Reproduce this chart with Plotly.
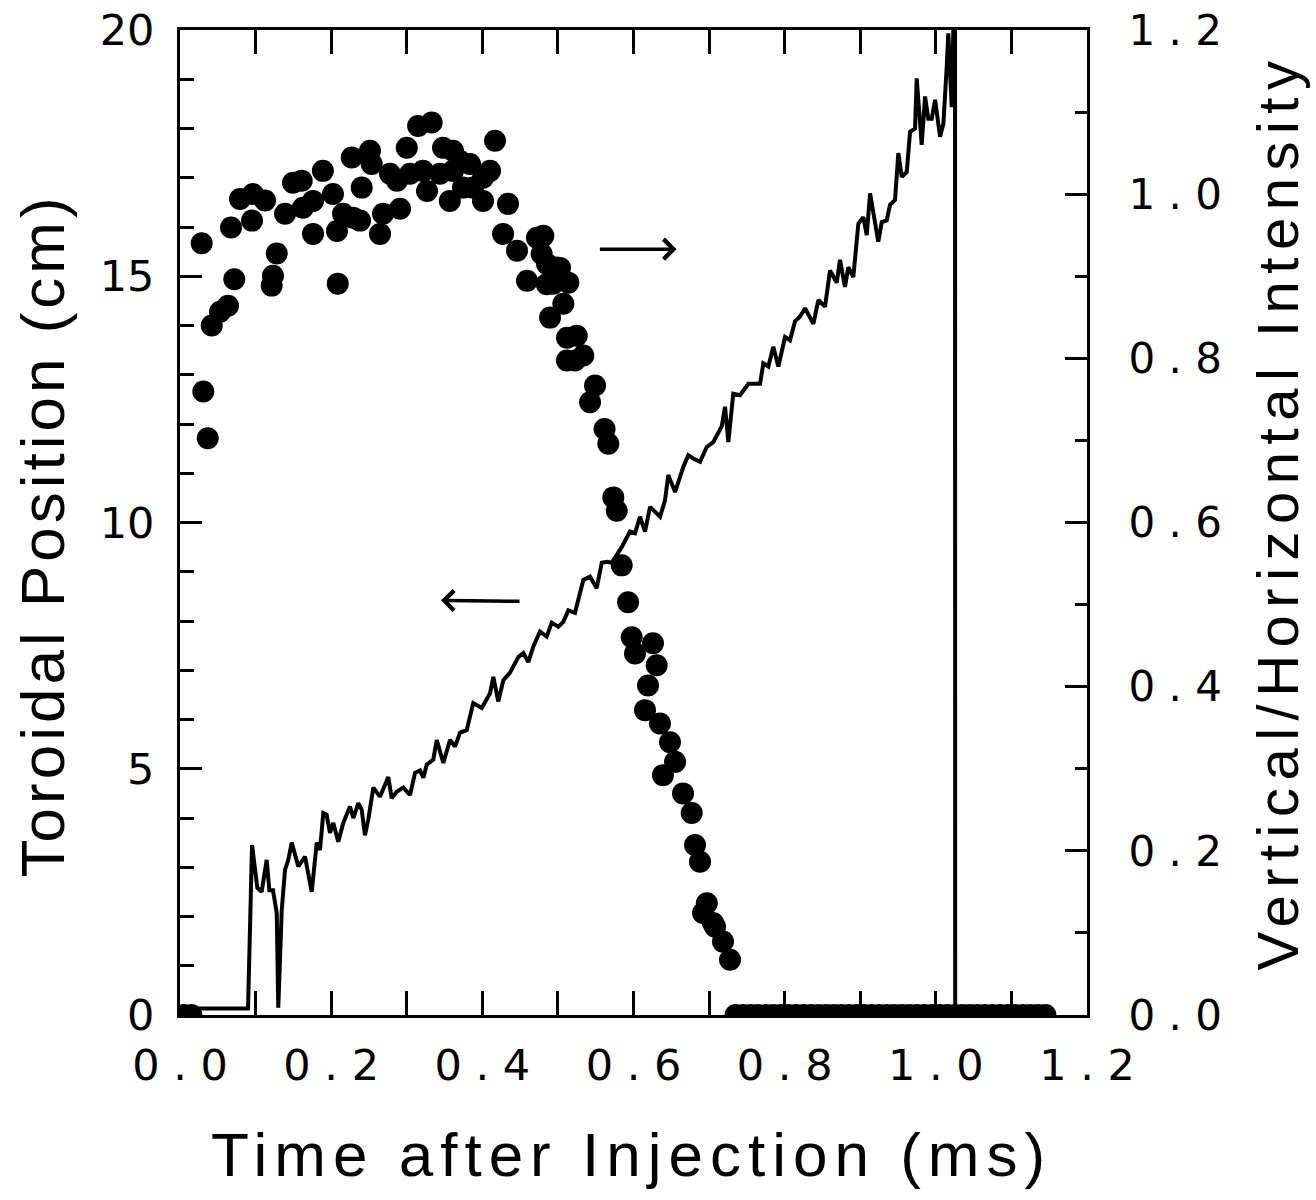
import plotly.graph_objects as go

# ---------------- data ----------------
# Toroidal position (cm) vs time after injection (ms)  -> left axis
pos_t = [0.005, 0.015,
         0.0287, 0.0308, 0.0367, 0.042, 0.053, 0.0635, 0.0675, 0.0718, 0.0794, 0.0953,
         0.0966, 0.1125, 0.1213, 0.123, 0.128, 0.139, 0.1495, 0.161, 0.1627, 0.176,
         0.176, 0.189, 0.2024, 0.2077, 0.2087, 0.2157, 0.2272, 0.229, 0.2382, 0.2404,
         0.2514, 0.2536, 0.2646, 0.2686, 0.2779, 0.2871, 0.2911, 0.300, 0.3043, 0.315,
         0.3215, 0.3268, 0.333, 0.344, 0.348, 0.357, 0.3612, 0.3612, 0.3705, 0.3744,
         0.3837, 0.3877, 0.4009, 0.4009, 0.4102, 0.4168, 0.4274, 0.434, 0.4459, 0.4591,
         0.4723, 0.4785, 0.4807, 0.4852, 0.4856, 0.4896, 0.4935, 0.4984, 0.5028, 0.5072,
         0.512, 0.5138, 0.512, 0.5226, 0.5249, 0.5336, 0.5425, 0.5491, 0.5617, 0.5667,
         0.5733, 0.5778, 0.5844, 0.5928, 0.5976, 0.602, 0.6152, 0.6192, 0.6258, 0.6307,
         0.635, 0.639, 0.6483, 0.655, 0.6655, 0.677, 0.6814, 0.688, 0.692, 0.697,
         0.7052, 0.7079, 0.7184, 0.7277,
         0.735, 0.745, 0.755, 0.765, 0.775, 0.785, 0.795, 0.805, 0.815, 0.825,
         0.835, 0.845, 0.855, 0.865, 0.875, 0.885, 0.895, 0.905, 0.915, 0.925,
         0.935, 0.945, 0.955, 0.965, 0.975, 0.985, 0.995, 1.005, 1.015, 1.025,
         1.035, 1.045, 1.055, 1.065, 1.075, 1.085, 1.095, 1.105, 1.115, 1.125,
         1.135, 1.145]
pos_cm = [0.0, 0.0,
          15.67, 12.66, 11.71, 14.00, 14.28, 14.40, 15.99, 14.94, 16.57, 16.13,
          16.67, 16.54, 14.81, 15.01, 15.46, 16.27, 16.90, 16.94, 16.39, 15.86,
          16.53, 17.14, 16.67, 15.92, 14.85, 16.27, 17.41, 16.19, 16.13, 16.80,
          17.55, 17.28, 15.86, 16.27, 17.08, 16.94, 16.37, 17.61, 17.08, 18.05,
          17.14, 16.73, 18.12, 17.08, 17.61, 16.53, 17.55, 17.14, 17.34, 16.80,
          17.28, 16.80, 17.00, 16.53, 17.14, 17.75, 15.86, 16.47, 15.52, 14.91,
          15.78, 15.45, 15.82, 14.84, 15.25, 14.16, 14.85, 15.18, 15.17, 14.44,
          13.75, 14.87, 13.29, 13.29, 13.79, 13.39, 12.44, 12.78, 11.90, 11.60,
          10.51, 10.24, 9.13, 8.38, 7.67, 7.34, 6.19, 6.69, 7.55, 7.10,
          5.92, 4.87, 5.54, 5.14, 4.50, 4.10, 3.45, 3.11, 2.07, 2.27,
          1.87, 1.79, 1.49, 1.12,
          0.0, 0.0, 0.0, 0.0, 0.0, 0.0, 0.0, 0.0, 0.0, 0.0,
          0.0, 0.0, 0.0, 0.0, 0.0, 0.0, 0.0, 0.0, 0.0, 0.0,
          0.0, 0.0, 0.0, 0.0, 0.0, 0.0, 0.0, 0.0, 0.0, 0.0,
          0.0, 0.0, 0.0, 0.0, 0.0, 0.0, 0.0, 0.0, 0.0, 0.0,
          0.0, 0.0]

# Vertical/Horizontal intensity ratio vs time (ms) -> right axis
ratio_t = [0.000, 0.090, 0.0953, 0.1023, 0.108, 0.1147, 0.1182, 0.123, 0.128, 0.130,
           0.1346, 0.139, 0.1433, 0.1478, 0.1565, 0.1654, 0.1743, 0.1809, 0.1852, 0.1896,
           0.194, 0.1984, 0.2028, 0.2094, 0.216, 0.2249, 0.2293, 0.2359, 0.2404, 0.2447,
           0.2491, 0.2558, 0.2646, 0.2756, 0.280, 0.2867, 0.2954, 0.3043, 0.311, 0.3175,
           0.322, 0.3264, 0.3351, 0.3397, 0.3484, 0.3572, 0.3639, 0.3705, 0.3793, 0.388,
           0.3992, 0.4102, 0.4145, 0.4211, 0.4278, 0.4366, 0.4476, 0.4542, 0.4608, 0.4675,
           0.4763, 0.4852, 0.4918, 0.5005, 0.5072, 0.5138, 0.5226, 0.5336, 0.5425, 0.5513,
           0.558, 0.5646, 0.5712, 0.5844, 0.5954, 0.602, 0.6086, 0.6152, 0.6219, 0.6351,
           0.6417, 0.646, 0.655, 0.666, 0.6725, 0.679, 0.688, 0.6969, 0.7056, 0.7167,
           0.7211, 0.7255, 0.732, 0.7409, 0.752, 0.7674, 0.7718, 0.7784, 0.785, 0.7916,
           0.8005, 0.807, 0.8137, 0.8203, 0.827, 0.838, 0.8445, 0.8534, 0.860, 0.8689,
           0.8732, 0.8798, 0.8842, 0.8908, 0.8975, 0.9041, 0.9086, 0.913, 0.9239, 0.9284,
           0.935, 0.9394, 0.946, 0.9504, 0.9549, 0.9615, 0.9659, 0.9725, 0.9747, 0.9813,
           0.9857, 0.990, 0.9946, 0.999, 1.0056, 1.010, 1.0144, 1.0165, 1.021, 1.0232,
           1.0254, 1.0256, 1.150]
ratio_v = [0.008, 0.008, 0.207, 0.155, 0.150, 0.189, 0.152, 0.152, 0.124, 0.009,
           0.128, 0.177, 0.189, 0.210, 0.181, 0.193, 0.150, 0.210, 0.201, 0.246,
           0.244, 0.222, 0.234, 0.211, 0.234, 0.254, 0.240, 0.258, 0.250, 0.219,
           0.238, 0.277, 0.266, 0.290, 0.264, 0.272, 0.277, 0.268, 0.295, 0.298,
           0.289, 0.305, 0.311, 0.335, 0.307, 0.335, 0.327, 0.344, 0.347, 0.380,
           0.374, 0.392, 0.412, 0.382, 0.408, 0.417, 0.436, 0.441, 0.430, 0.449,
           0.467, 0.461, 0.478, 0.473, 0.479, 0.493, 0.490, 0.530, 0.534, 0.520,
           0.551, 0.552, 0.551, 0.570, 0.589, 0.587, 0.607, 0.589, 0.619, 0.607,
           0.627, 0.658, 0.637, 0.668, 0.682, 0.678, 0.674, 0.692, 0.698, 0.717,
           0.741, 0.698, 0.757, 0.755, 0.769, 0.769, 0.794, 0.790, 0.814, 0.790,
           0.826, 0.822, 0.845, 0.851, 0.861, 0.842, 0.871, 0.863, 0.907, 0.892,
           0.920, 0.887, 0.911, 0.899, 0.964, 0.972, 0.950, 1.001, 0.942, 0.966,
           0.968, 0.987, 0.993, 1.050, 1.021, 1.027, 1.076, 1.080, 1.141, 1.060,
           1.119, 1.092, 1.092, 1.115, 1.070, 1.086, 1.155, 1.196, 1.106, 1.196,
           1.300, 0.000, 0.000]

# tick labels
x_tickvals = [0.0, 0.2, 0.4, 0.6, 0.8, 1.0, 1.2]
x_ticktext = ["0 . 0", "0 . 2", "0 . 4", "0 . 6", "0 . 8", "1 . 0", "1 . 2"]
yl_tickvals = [0, 5, 10, 15, 20]
yl_ticktext = ["0", "5", "10", "15", "20"]
yr_tickvals = [0.0, 0.2, 0.4, 0.6, 0.8, 1.0, 1.2]
yr_ticktext = ["0 . 0", "0 . 2", "0 . 4", "0 . 6", "0 . 8", "1 . 0", "1 . 2"]

# arrows (head, tail) in data coords of x / left y
arrow_right = {"head": (0.657, 15.55), "tail": (0.5535, 15.55)}
arrow_left = {"head": (0.3453, 8.42), "tail": (0.4512, 8.40)}

x_title = "Time after Injection (ms)"
yl_title = "Toroidal Position (cm)"
yr_title = "Vertical/Horizontal Intensity"

# ---------------- figure ----------------
TICKFONT = dict(family="DejaVu Sans", size=43, color="black")
TICKFONT_R = dict(family="DejaVu Sans", size=42, color="black")
TITLEFAMILY = "Liberation Sans, Arial, sans-serif"

fig = go.Figure()
fig.add_trace(go.Scatter(
    x=pos_t, y=pos_cm, mode="markers", yaxis="y",
    marker=dict(size=22, color="black", line=dict(width=0)),
    cliponaxis=True, showlegend=False))
fig.add_trace(go.Scatter(
    x=ratio_t, y=ratio_v, mode="lines", yaxis="y2",
    line=dict(color="black", width=4), showlegend=False))

for a in (arrow_right, arrow_left):
    fig.add_annotation(
        x=a["head"][0], y=a["head"][1], ax=a["tail"][0], ay=a["tail"][1],
        xref="x", yref="y", axref="x", ayref="y",
        showarrow=True, arrowhead=4, arrowsize=1.1, arrowwidth=3.5,
        arrowcolor="black", text="", standoff=0, startstandoff=0)

fig.add_annotation(
    text='<span style="letter-spacing:7px">' + x_title + "</span>",
    xref="paper", yref="paper", x=0.498, y=-0.142, xanchor="center", yanchor="middle",
    showarrow=False, font=dict(family=TITLEFAMILY, size=62, color="black"))
fig.add_annotation(
    text='<span style="letter-spacing:4px">' + yl_title + "</span>",
    xref="paper", yref="paper", x=-0.152, y=0.487, xanchor="center", yanchor="middle",
    textangle=-90, showarrow=False,
    font=dict(family=TITLEFAMILY, size=62, color="black"))
fig.add_annotation(
    text='<span style="letter-spacing:7.5px">' + yr_title + "</span>",
    xref="paper", yref="paper", x=1.2105, y=0.511, xanchor="center", yanchor="middle",
    textangle=-90, showarrow=False,
    font=dict(family=TITLEFAMILY, size=58, color="black"))

fig.update_layout(
    width=1316, height=1200,
    margin=dict(l=180, r=229, t=30, b=185, autoexpand=False),
    paper_bgcolor="white", plot_bgcolor="white",
    xaxis=dict(
        range=[0, 1.2], tickvals=x_tickvals, ticktext=x_ticktext,
        ticks="inside", ticklen=24, tickwidth=2.5, tickcolor="black",
        minor=dict(dtick=0.1, tick0=0, ticks="inside", ticklen=13, tickwidth=2.5,
                   tickcolor="black", showgrid=False),
        showline=True, linewidth=3, linecolor="black", mirror="allticks",
        showgrid=False, zeroline=False, tickfont=TICKFONT, ticklabelstandoff=10,
        automargin=False, ticklabeloverflow="allow"),
    yaxis=dict(
        range=[0, 20], tickvals=yl_tickvals, ticktext=yl_ticktext,
        ticks="inside", ticklen=22, tickwidth=2.5, tickcolor="black",
        minor=dict(dtick=1, tick0=0, ticks="inside", ticklen=14, tickwidth=2.5,
                   tickcolor="black", showgrid=False),
        showline=True, linewidth=3, linecolor="black", mirror=False,
        showgrid=False, zeroline=False, tickfont=TICKFONT, ticklabelstandoff=14,
        automargin=False, ticklabeloverflow="allow"),
    yaxis2=dict(
        range=[0, 1.2], tickvals=yr_tickvals, ticktext=yr_ticktext,
        overlaying="y", side="right",
        ticks="inside", ticklen=22, tickwidth=2.5, tickcolor="black",
        minor=dict(dtick=0.1, tick0=0, ticks="inside", ticklen=12, tickwidth=2.5,
                   tickcolor="black", showgrid=False),
        showline=True, linewidth=3, linecolor="black",
        showgrid=False, zeroline=False, tickfont=TICKFONT_R, ticklabelstandoff=30,
        automargin=False, ticklabeloverflow="allow"),
)

fig.write_html("out.html", config={"displayModeBar": False},
               post_script="document.body.style.margin='0';")
